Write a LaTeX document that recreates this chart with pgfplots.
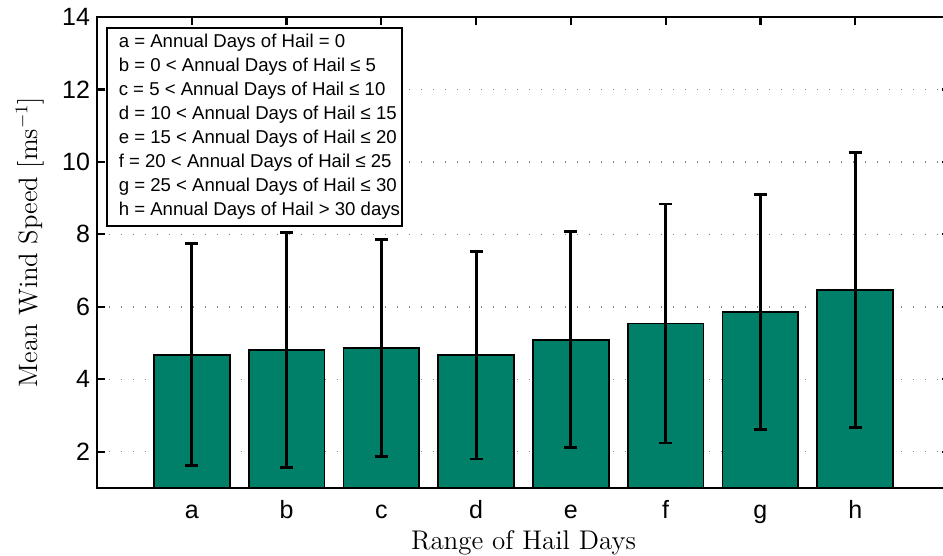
\documentclass[border=0pt]{standalone}
\usepackage{pgfplots}
\pgfplotsset{compat=1.18}
\usepackage{fontspec}
\newfontfamily\arial{Liberation Sans}
\definecolor{barteal}{RGB}{0,128,104}
\begin{document}
\begin{tikzpicture}
\begin{axis}[
  at={(0,0)}, anchor=south west,
  scale only axis,
  width=426.5pt, height=235.5pt,
  xmin=0, xmax=9, ymin=1, ymax=14,
  xtick={1,...,8},
  xticklabels={a,b,c,d,e,f,g,h},
  ytick={2,4,...,14},
  xtick pos=upper, xticklabel pos=lower,
  tick align=inside,
  major tick length=4pt,
  axis line style={line width=1.1pt},
  every tick/.style={line width=1.1pt, black},
  ymajorgrids,
  grid style={gray, line width=0.7pt, dash pattern=on 0.7pt off 5.3pt},
  /pgf/number format/assume math mode=true,
  tick label style={font=\arial\fontsize{12.5}{14}\selectfont},
  xticklabel style={anchor=base, yshift=-15.5pt},
  xlabel={Range of Hail Days},
  ylabel={Mean Wind Speed [ms$^{-1}$]},
  x label style={at={([yshift=-31pt]axis description cs:0.5,0)}, anchor=base, inner sep=0pt, font=\fontsize{13.5}{16}\selectfont},
  y label style={at={([xshift=-26pt]axis description cs:0,0.522)}, rotate=0, anchor=south, inner sep=0pt, font=\fontsize{13.3}{16}\selectfont},
]
\addplot[ybar, bar width=0.80, fill=barteal, draw=black, line width=0.9pt,
  error bars/.cd, y dir=both, y explicit,
  error bar style={line width=1.4pt, black},
  error mark options={rotate=90, mark size=3.25pt, line width=1.4pt, black}]
  coordinates {
  (1,4.68) +- (0,3.07)
  (2,4.81) +- (0,3.245)
  (3,4.86) +- (0,3.00)
  (4,4.66) +- (0,2.86)
  (5,5.09) +- (0,2.98)
  (6,5.54) +- (0,3.30)
  (7,5.85) +- (0,3.24)
  (8,6.46) +- (0,3.80)
  };
\node[anchor=north west, draw=black, line width=0.9pt, fill=white, inner sep=0pt,
  minimum width=147.5pt, minimum height=99pt,
  font=\arial\fontsize{9.3}{12}\selectfont]
  at ([xshift=4.5pt,yshift=-5pt]rel axis cs:0,1)
  {\begin{tabular}{@{\hspace{5pt}}l@{}}
  a = Annual Days of Hail = 0\\
  b = 0 < Annual Days of Hail ≤ 5\\
  c = 5 < Annual Days of Hail ≤ 10\\
  d = 10 < Annual Days of Hail ≤ 15\\
  e = 15 < Annual Days of Hail ≤ 20\\
  f = 20 < Annual Days of Hail ≤ 25\\
  g = 25 < Annual Days of Hail ≤ 30\\
  h = Annual Days of Hail > 30 days
  \end{tabular}};
\end{axis}
\pgfresetboundingbox
\useasboundingbox (-48.5pt,-34pt) rectangle (423pt,244pt);
\end{tikzpicture}
\end{document}
